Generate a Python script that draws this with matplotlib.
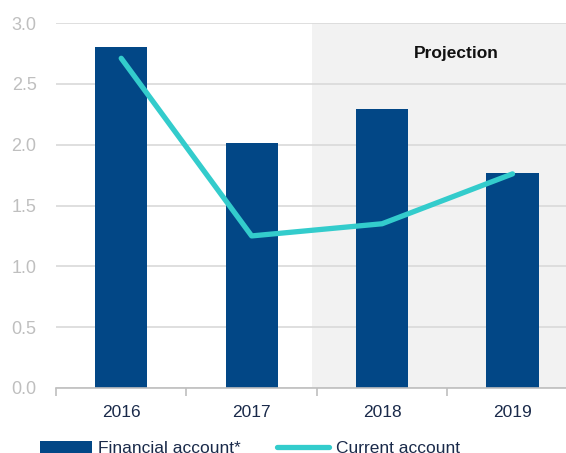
import matplotlib
matplotlib.use("Agg")
import matplotlib.pyplot as plt
from matplotlib.ticker import FixedLocator

years = ["2016", "2017", "2018", "2019"]
financial_account = [2.80, 2.01, 2.29, 1.77]
current_account = [2.71, 1.25, 1.35, 1.76]
yticks = [0.0, 0.5, 1.0, 1.5, 2.0, 2.5, 3.0]

plt.rcParams['font.family'] = ['Liberation Sans', 'DejaVu Sans']

W, H = 566, 453
fig = plt.figure(figsize=(W / 100, H / 100), dpi=100)
ax = fig.add_axes([56 / W, 1 - 388 / H, 1 - 56 / W, (388 - 23) / H])

x = list(range(len(years)))
ax.axvspan(1.46, 4.0, color="#f2f2f2", zorder=0, lw=0)
bars = ax.bar(x, financial_account, width=0.4, color="#024786", zorder=2,
              label="Financial account*")
line, = ax.plot(x, current_account, color="#33cccc", lw=3.8,
                solid_capstyle="round", zorder=3, label="Current account")

ax.set_xlim(-0.5, 3.41)
ax.set_ylim(0, 3.0)
ax.set_yticks(yticks)
ax.set_yticklabels([f"{v:.1f}" for v in yticks])
ax.yaxis.grid(True, color="#d9d9d9", lw=1.2, zorder=1)
ax.set_axisbelow(True)

ax.set_xticks(x)
ax.set_xticklabels(years)
ax.xaxis.set_minor_locator(FixedLocator([-0.5, 0.5, 1.5, 2.5]))
ax.tick_params(axis="x", which="major", length=0, pad=12, labelsize=12.5,
               labelcolor="#1a2a4a")
ax.tick_params(axis="x", which="minor", length=6, color="#bfbfbf", width=1.2)
ax.tick_params(axis="y", length=0, pad=14, labelsize=13, labelcolor="#bfbfbf")

for s in ["top", "right", "left"]:
    ax.spines[s].set_visible(False)
ax.spines["bottom"].set_color("#bfbfbf")
ax.spines["bottom"].set_linewidth(1.2)
ax.spines["bottom"].set_zorder(4)

ax.text(2.57, 2.75, "Projection", ha="center", va="center", fontsize=12.5,
        fontweight="bold", color="#111111")

fig.legend(handles=[bars, line], labels=["Financial account*", "Current account"],
           loc="upper left", bbox_to_anchor=(40 / W, 1 - 441 / H), ncol=2,
           frameon=False, fontsize=12.5, handlelength=3.0, handleheight=0.7,
           handletextpad=0.35, columnspacing=2.1, labelcolor="#1a2a4a",
           borderaxespad=0, borderpad=0)

fig.savefig("out.png", dpi=100)
